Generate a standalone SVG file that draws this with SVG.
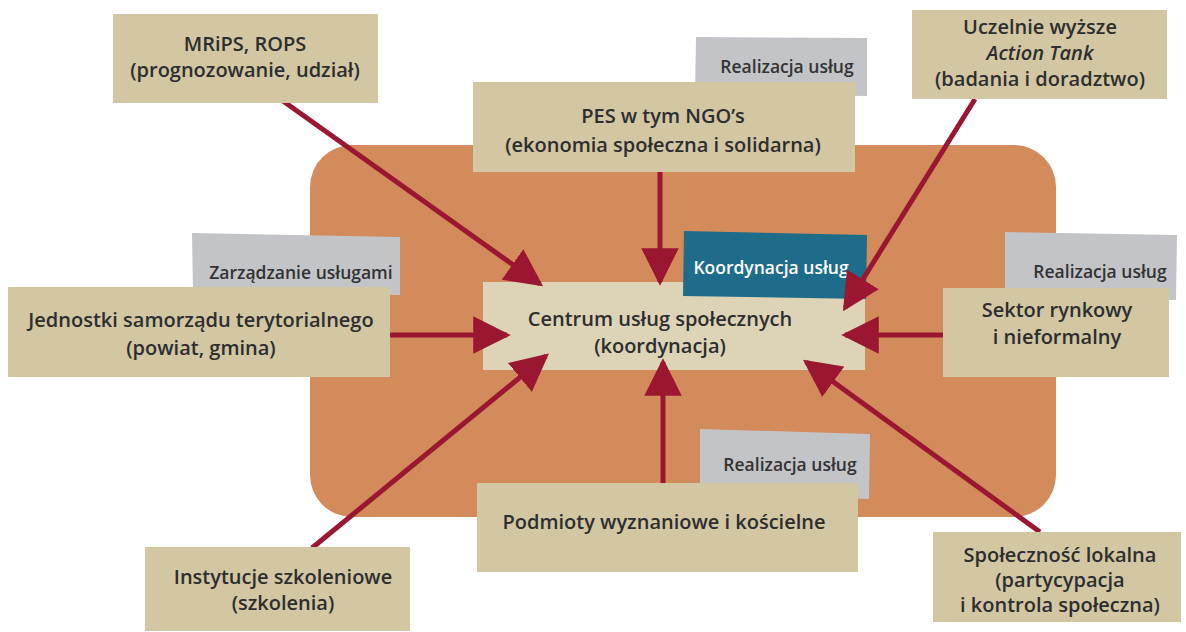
<svg xmlns="http://www.w3.org/2000/svg" width="1186" height="632" viewBox="0 0 1186 632">
  <defs>
    <style>
      .box { fill: #D2C6A3; }
      .center { fill: #DDD3B6; }
      .tag { fill: #C3C4C8; }
      .txt { font-family: "Open Sans", "Noto Sans", sans-serif; font-weight: 600; font-size: 20px; fill: #2e2e2e; text-anchor: middle; }
      .tagtxt { font-family: "Open Sans", "Noto Sans", sans-serif; font-weight: 600; font-size: 17.5px; fill: #333333; text-anchor: middle; }
      .link { stroke: #9A1631; stroke-width: 5; fill: none; marker-end: url(#head); }
    </style>
    <marker id="head" viewBox="0 0 10 10" refX="9" refY="5" markerWidth="7.5" markerHeight="7.5" orient="auto" markerUnits="strokeWidth">
      <path d="M0,0 L10,5 L0,10 Z" fill="#9A1631"/>
    </marker>
  </defs>

  <rect width="1186" height="632" fill="#ffffff"/>

  <!-- background field -->
  <rect x="310" y="145" width="746" height="372" rx="42" ry="42" fill="#D38B5C"/>

  <!-- centre node -->
  <g id="centrum">
    <rect class="center" x="483" y="282" width="382" height="88"/>
    <polygon points="684,231 867,235 866,299 683,296" fill="#1E6C8A"/>
    <text x="771" y="274" class="tagtxt" style="fill:#ffffff">Koordynacja usług</text>
    <text x="660" y="326" class="txt">Centrum usług społecznych</text>
    <text x="660" y="353" class="txt">(koordynacja)</text>
  </g>

  <!-- connectors -->
  <g id="connectors">
    <line class="link" x1="283" y1="101" x2="540" y2="284"/>
    <line class="link" x1="660" y1="172" x2="660" y2="282"/>
    <line class="link" x1="975" y1="99" x2="845" y2="308"/>
    <line class="link" x1="390" y1="335" x2="507" y2="335"/>
    <line class="link" x1="943" y1="335" x2="845" y2="335"/>
    <line class="link" x1="312" y1="548" x2="546" y2="356"/>
    <line class="link" x1="663" y1="483" x2="663" y2="362"/>
    <line class="link" x1="1040" y1="532" x2="806" y2="362"/>
  </g>

  <g id="mrips">
    <rect class="box" x="113" y="14" width="265" height="89"/>
    <text x="245" y="51" class="txt">MRiPS, ROPS</text>
    <text x="245" y="77" class="txt">(prognozowanie, udział)</text>
  </g>

  <g id="pes">
    <polygon class="tag" points="696,37 867,38 867,96 695,94"/>
    <text x="787" y="73" class="tagtxt">Realizacja usług</text>
    <rect class="box" x="473" y="82" width="382" height="90"/>
    <text x="663" y="123" class="txt">PES w tym NGO’s</text>
    <text x="663" y="152" class="txt">(ekonomia społeczna i solidarna)</text>
  </g>

  <g id="uczelnie">
    <rect class="box" x="912" y="10" width="255" height="89"/>
    <text x="1040" y="34" class="txt">Uczelnie wyższe</text>
    <text x="1040" y="60" class="txt" font-style="italic">Action Tank</text>
    <text x="1040" y="86" class="txt">(badania i doradztwo)</text>
  </g>

  <g id="jednostki">
    <polygon class="tag" points="192,233 400,237 400,295 193,293"/>
    <text x="301" y="279" class="tagtxt">Zarządzanie usługami</text>
    <rect class="box" x="8" y="287" width="382" height="90"/>
    <text x="201" y="327" class="txt">Jednostki samorządu terytorialnego</text>
    <text x="201" y="355" class="txt">(powiat, gmina)</text>
  </g>

  <g id="sektor">
    <polygon class="tag" points="1005,232 1177,235 1176,300 1005,296"/>
    <text x="1100" y="278" class="tagtxt">Realizacja usług</text>
    <rect class="box" x="943" y="288" width="226" height="89"/>
    <text x="1057" y="317" class="txt">Sektor rynkowy</text>
    <text x="1057" y="344" class="txt">i nieformalny</text>
  </g>

  <g id="podmioty">
    <polygon class="tag" points="700,429 870,434 869,499 700,494"/>
    <text x="790" y="471" class="tagtxt">Realizacja usług</text>
    <rect class="box" x="477" y="483" width="381" height="89"/>
    <text x="664" y="529" class="txt">Podmioty wyznaniowe i kościelne</text>
  </g>

  <g id="instytucje">
    <rect class="box" x="145" y="547" width="265" height="84"/>
    <text x="283" y="584" class="txt">Instytucje szkoleniowe</text>
    <text x="283" y="610" class="txt">(szkolenia)</text>
  </g>

  <g id="spolecznosc">
    <rect class="box" x="933" y="532" width="248" height="90"/>
    <text x="1060" y="562" class="txt">Społeczność lokalna</text>
    <text x="1060" y="587" class="txt">(partycypacja</text>
    <text x="1060" y="612" class="txt">i kontrola społeczna)</text>
  </g>
</svg>
